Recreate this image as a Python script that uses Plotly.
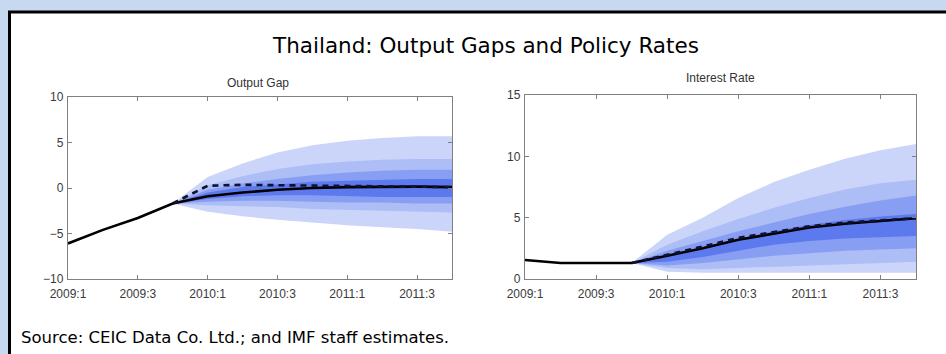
import plotly.graph_objects as go

# Quarter index 0 = 2009:1 ... 11 = 2011:4
quarters = list(range(12))
fan_quarters = list(range(3, 12))
tick_vals = [0, 2, 4, 6, 8, 10]
tick_text = ["2009:1", "2009:3", "2010:1", "2010:3", "2011:1", "2011:3"]

# Output gap: baseline path and alternative (dashed) path
gap_baseline = [-6.1, -4.6, -3.3, -1.7, -0.9, -0.5, -0.2, 0.0, 0.1, 0.15, 0.15, 0.1]
gap_alt = [-1.7, 0.25, 0.35, 0.3, 0.25, 0.2, 0.15, 0.15, 0.1]

# Output gap fan bands (upper, lower), widest first
gap_b90_hi = [-1.7, 1.2, 2.7, 3.9, 4.7, 5.2, 5.5, 5.7, 5.7]
gap_b90_lo = [-1.7, -2.6, -3.1, -3.5, -3.8, -4.1, -4.3, -4.5, -4.8]
gap_b70_hi = [-1.7, 0.3, 1.3, 2.1, 2.6, 2.9, 3.1, 3.2, 3.2]
gap_b70_lo = [-1.7, -1.9, -2.0, -2.1, -2.3, -2.4, -2.5, -2.6, -2.7]
gap_b50_hi = [-1.7, -0.2, 0.5, 1.0, 1.4, 1.7, 1.9, 2.0, 2.0]
gap_b50_lo = [-1.7, -1.5, -1.4, -1.4, -1.5, -1.6, -1.6, -1.7, -1.7]
gap_b30_hi = [-1.7, -0.5, 0.1, 0.4, 0.7, 0.8, 0.9, 1.0, 1.0]
gap_b30_lo = [-1.7, -1.2, -0.9, -0.8, -0.8, -0.9, -1.0, -1.0, -1.0]

# Policy interest rate: baseline path and alternative (dashed) path
rate_baseline = [1.55, 1.3, 1.3, 1.3, 1.9, 2.5, 3.2, 3.7, 4.2, 4.5, 4.75, 4.95]
rate_alt = [1.3, 1.95, 2.65, 3.35, 3.85, 4.3, 4.6, 4.8, 4.95]

# Interest rate fan bands (upper, lower), widest first
rate_b90_hi = [1.3, 3.6, 5.0, 6.6, 7.9, 8.9, 9.8, 10.5, 11.0]
rate_b90_lo = [1.3, 0.6, 0.5, 0.5, 0.5, 0.5, 0.5, 0.5, 0.5]
rate_b70_hi = [1.3, 2.8, 3.9, 4.9, 5.8, 6.6, 7.3, 7.8, 8.1]
rate_b70_lo = [1.3, 0.9, 0.8, 0.9, 1.0, 1.1, 1.2, 1.3, 1.4]
rate_b50_hi = [1.3, 2.3, 3.1, 3.9, 4.6, 5.3, 5.9, 6.4, 6.8]
rate_b50_lo = [1.3, 1.1, 1.3, 1.6, 1.9, 2.1, 2.3, 2.4, 2.5]
rate_b30_hi = [1.3, 1.95, 2.6, 3.3, 3.9, 4.4, 4.8, 5.1, 5.3]
rate_b30_lo = [1.3, 1.4, 1.8, 2.3, 2.8, 3.1, 3.3, 3.4, 3.5]

band_colors = ["rgb(203,213,250)", "rgb(173,189,246)", "rgb(136,158,242)", "rgb(92,122,238)"]

W, H = 946, 354
fig = go.Figure()


def add_fan(bands, xa, ya):
    for (hi, lo), col in zip(bands, band_colors):
        fig.add_trace(go.Scatter(x=fan_quarters, y=lo, mode="lines", line=dict(width=0, color=col),
                                 xaxis=xa, yaxis=ya, showlegend=False, hoverinfo="skip"))
        fig.add_trace(go.Scatter(x=fan_quarters, y=hi, mode="lines", line=dict(width=0, color=col),
                                 fill="tonexty", fillcolor=col,
                                 xaxis=xa, yaxis=ya, showlegend=False, hoverinfo="skip"))


def add_paths(base, alt, xa, ya):
    fig.add_trace(go.Scatter(x=quarters, y=base, mode="lines", line=dict(color="black", width=2.6),
                             xaxis=xa, yaxis=ya, showlegend=False))
    fig.add_trace(go.Scatter(x=fan_quarters, y=alt, mode="lines",
                             line=dict(color="#111133", width=2.6, dash="6px,5px"),
                             xaxis=xa, yaxis=ya, showlegend=False))


add_fan([(gap_b90_hi, gap_b90_lo), (gap_b70_hi, gap_b70_lo), (gap_b50_hi, gap_b50_lo), (gap_b30_hi, gap_b30_lo)], "x", "y")
add_paths(gap_baseline, gap_alt, "x", "y")
add_fan([(rate_b90_hi, rate_b90_lo), (rate_b70_hi, rate_b70_lo), (rate_b50_hi, rate_b50_lo), (rate_b30_hi, rate_b30_lo)], "x2", "y2")
add_paths(rate_baseline, rate_alt, "x2", "y2")

tick_font = dict(family="Liberation Sans, Arial, sans-serif", size=12, color="#3a3a3a")
axis_common = dict(showgrid=False, zeroline=False, showline=True, linecolor="#808080", linewidth=1.3,
                   mirror="ticks", ticks="inside", ticklen=4, tickcolor="#808080", tickfont=tick_font,
                   automargin=False)

fig.update_layout(
    width=W, height=H, margin=dict(l=0, r=0, t=0, b=0, pad=0, autoexpand=False),
    paper_bgcolor="#c6d9f1", plot_bgcolor="white",
    xaxis=dict(domain=[68 / W, 452 / W], range=[0, 11], tickvals=tick_vals, ticktext=tick_text,
               anchor="y", ticklabelstandoff=3, **axis_common),
    yaxis=dict(domain=[1 - 279 / H, 1 - 97 / H], range=[-10, 10], tickvals=[-10, -5, 0, 5, 10],
               anchor="x", ticklabelstandoff=1, **axis_common),
    xaxis2=dict(domain=[525 / W, 916 / W], range=[0, 11], tickvals=tick_vals, ticktext=tick_text,
                anchor="y2", ticklabelstandoff=3, **axis_common),
    yaxis2=dict(domain=[1 - 279 / H, 1 - 95 / H], range=[0, 15], tickvals=[0, 5, 10, 15],
                anchor="x2", ticklabelstandoff=1, **axis_common),
)

# White panel with black frame behind the charts
fig.add_shape(type="rect", xref="paper", yref="paper", layer="below",
              x0=9.5 / W, x1=(W + 4) / W, y0=-4 / H, y1=1 - 12 / H,
              line=dict(color="black", width=3), fillcolor="white")

fig.add_annotation(text="Thailand: Output Gaps and Policy Rates", xref="paper", yref="paper",
                   x=485 / W, y=1 - 45 / H, showarrow=False, xanchor="center", yanchor="middle",
                   font=dict(family="DejaVu Sans, sans-serif", size=21.5, color="black"))
fig.add_annotation(text="Output Gap", xref="paper", yref="paper", x=258 / W, y=1 - 83 / H,
                   showarrow=False, xanchor="center", yanchor="middle",
                   font=dict(family="Liberation Sans, Arial, sans-serif", size=12, color="#333333"))
fig.add_annotation(text="Interest Rate", xref="paper", yref="paper", x=720 / W, y=1 - 78 / H,
                   showarrow=False, xanchor="center", yanchor="middle",
                   font=dict(family="Liberation Sans, Arial, sans-serif", size=12, color="#333333"))
fig.add_annotation(text="Source: CEIC Data Co. Ltd.; and IMF staff estimates.", xref="paper", yref="paper",
                   x=19 / W, y=1 - 337 / H, showarrow=False, xanchor="left", yanchor="middle",
                   font=dict(family="DejaVu Sans, sans-serif", size=16.5, color="black"))

fig.write_html("out.html")
